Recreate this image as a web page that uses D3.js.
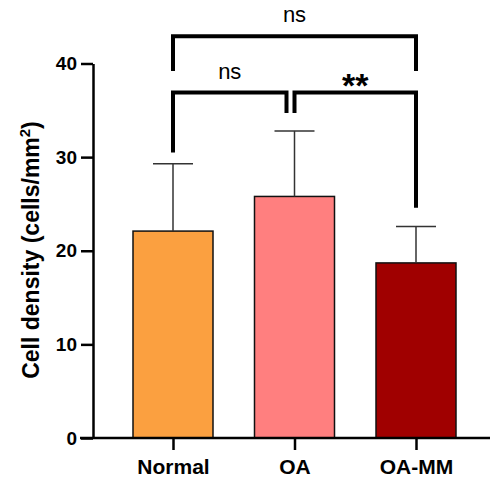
<!DOCTYPE html>
<html>
<head>
<meta charset="utf-8">
<script src="https://cdn.jsdelivr.net/npm/d3@7"></script>
<style>
  body { margin: 0; background: #fff; }
  svg { display: block; font-family: Arial, "Liberation Sans", sans-serif; }
</style>
</head>
<body>
<div id="chart"></div>
<script>
var categories = ["Normal", "OA", "OA-MM"];
var means = [22.1, 25.8, 18.7];
var sds = [7.2, 7.0, 3.9];
var colors = ["#FBA040", "#FF7F7F", "#A00000"];
var yTicks = [0, 10, 20, 30, 40];

// significance brackets: [from, to, bar height, left end, right end, label]
var brackets = [
    ["Normal", "OA-MM", 42.9, 39.2, 39.2, "ns"],
    ["Normal", "OA", 36.9, 30.5, 34.7, "ns"],
    ["OA", "OA-MM", 36.9, 34.7, 24.6, "**"]
];

var width = 490, height = 481;

var svg = d3.select("#chart").append("svg")
    .attr("width", width)
    .attr("height", height);

var x = d3.scalePoint().domain(categories).range([173, 416]);
var y = d3.scaleLinear().domain([0, 40]).range([438, 63.5]);
var barW = 80;

// bars
svg.append("g").selectAll("rect")
    .data(categories)
    .enter().append("rect")
    .attr("x", function(d) { return x(d) - barW / 2; })
    .attr("y", function(d, i) { return y(means[i]); })
    .attr("width", barW)
    .attr("height", function(d, i) { return y(0) - y(means[i]); })
    .attr("fill", function(d, i) { return colors[i]; })
    .attr("stroke", "#111")
    .attr("stroke-width", 1.5);

// error bars (upper only)
var err = svg.append("g").attr("stroke", "#333").attr("stroke-width", 1.5);
categories.forEach(function(c, i) {
    err.append("line")
        .attr("x1", x(c)).attr("x2", x(c))
        .attr("y1", y(means[i])).attr("y2", y(means[i] + sds[i]));
    err.append("line")
        .attr("x1", x(c) - 20).attr("x2", x(c) + 20)
        .attr("y1", y(means[i] + sds[i])).attr("y2", y(means[i] + sds[i]));
});

// y axis
var yAxis = svg.append("g")
    .attr("transform", "translate(93,0)")
    .call(d3.axisLeft(y).tickValues(yTicks).tickSize(12).tickPadding(4).tickSizeOuter(0));
yAxis.select(".domain").attr("stroke", "#000").attr("stroke-width", 2.5);
yAxis.selectAll(".tick line").attr("stroke", "#000").attr("stroke-width", 2.5);
yAxis.selectAll(".tick text")
    .attr("font-family", "Arial, 'Liberation Sans', sans-serif")
    .attr("font-size", 19).attr("font-weight", "bold").attr("fill", "#000");

// x axis
var xAxis = svg.append("g")
    .attr("transform", "translate(0,438)")
    .call(d3.axisBottom(x).tickSize(12).tickPadding(9).tickSizeOuter(0));
xAxis.select(".domain").attr("d", "M80,0H490").attr("stroke", "#000").attr("stroke-width", 2.5);
xAxis.selectAll(".tick line").attr("stroke", "#000").attr("stroke-width", 2.5);
xAxis.selectAll(".tick text")
    .attr("font-family", "Arial, 'Liberation Sans', sans-serif")
    .attr("font-size", 21).attr("font-weight", "bold").attr("fill", "#000");

// y label
var ylab = svg.append("text")
    .attr("transform", "translate(39,250) rotate(-90)")
    .attr("text-anchor", "middle")
    .attr("font-size", 23)
    .attr("font-weight", "bold")
    .attr("fill", "#000");
ylab.append("tspan").text("Cell density (cells/mm");
ylab.append("tspan").attr("font-size", 15).attr("dy", -9).text("2");
ylab.append("tspan").attr("dy", 9).text(")");

// brackets
var br = svg.append("g");
brackets.forEach(function(b, i) {
    var x1 = x(b[0]), x2 = x(b[1]);
    if (i == 1) x2 = x2 - 8; // leave a gap next to the neighbouring bracket
    br.append("path")
        .attr("d", "M" + x1 + "," + y(b[3]) + "V" + y(b[2]) + "H" + x2 + "V" + y(b[4]))
        .attr("fill", "none")
        .attr("stroke", "#000")
        .attr("stroke-width", 4)
        .attr("stroke-linejoin", "miter")
        .attr("stroke-linecap", "butt");
    var t = br.append("text")
        .attr("x", (x1 + x2) / 2)
        .attr("text-anchor", "middle")
        .attr("fill", "#000")
        .text(b[5]);
    if (b[5] == "**") {
        t.attr("y", y(b[2]) + 4).attr("font-size", 34).attr("font-weight", "bold");
    } else {
        t.attr("y", y(b[2]) - 14).attr("font-size", 22);
    }
});
</script>
</body>
</html>
